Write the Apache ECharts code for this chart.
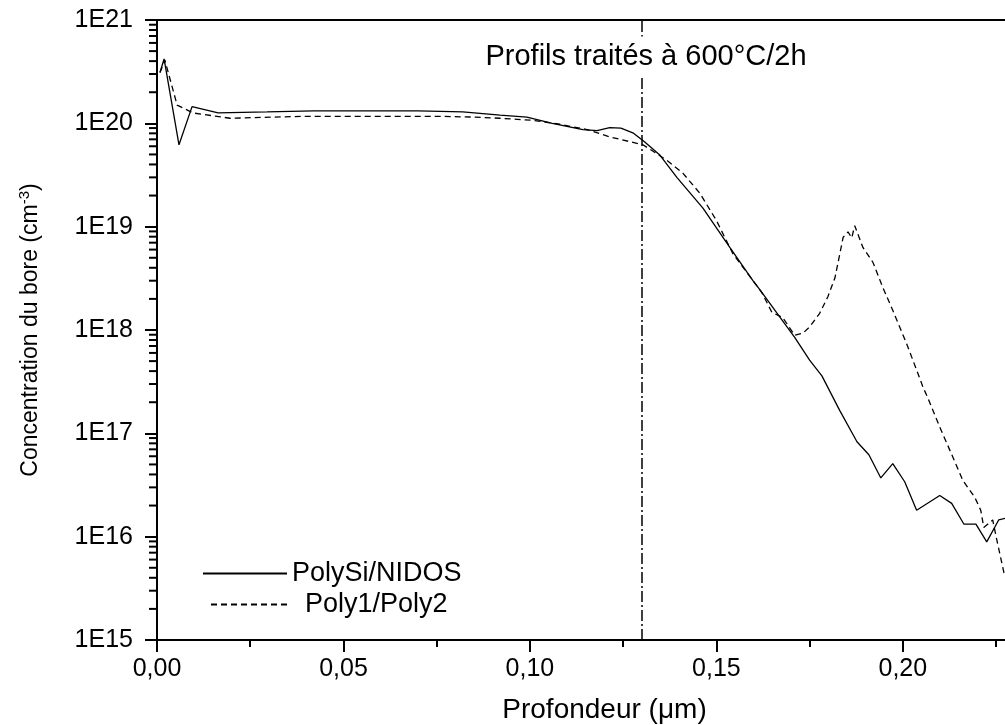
<!DOCTYPE html>
<html>
<head>
<meta charset="utf-8">
<script src="https://cdn.jsdelivr.net/npm/echarts@6/dist/echarts.min.js"></script>
<style>html,body{margin:0;padding:0;background:#fff}#c{width:1005px;height:725px}</style>
</head>
<body>
<div id="c"></div>
<script>
// Depth (µm)
const solidX = [0.0008,0.0019,0.0059,0.0094,0.0164,0.0295,0.042,0.055,0.070,0.082,0.092,0.0992,0.106,0.1142,0.118,0.1214,0.1244,0.1276,0.1308,0.1349,0.1394,0.1464,0.1536,0.1598,0.1617,0.171,0.175,0.1783,0.1831,0.1877,0.1909,0.1941,0.1973,0.2005,0.2037,0.2099,0.2131,0.2164,0.2196,0.2225,0.2257,0.229];
// Boron concentration (cm^-3), PolySi/NIDOS
const solidY = [3.1e20,4.2e20,6.2e19,1.45e20,1.26e20,1.29e20,1.32e20,1.32e20,1.32e20,1.29e20,1.2e20,1.15e20,1.0e20,8.7e19,8.5e19,9.1e19,9.0e19,8.1e19,6.6e19,4.9e19,3.0e19,1.51e19,6.3e18,3.0e18,2.45e18,8.5e17,5.1e17,3.6e17,1.66e17,8.3e16,6.2e16,3.7e16,5.1e16,3.4e16,1.8e16,2.5e16,2.1e16,1.32e16,1.32e16,8.9e15,1.45e16,1.55e16];
const dashX = [0.0008,0.0021,0.0054,0.0097,0.0196,0.0402,0.060,0.075,0.085,0.092,0.1008,0.108,0.1153,0.1214,0.1303,0.1367,0.141,0.1456,0.150,0.1544,0.1622,0.1649,0.1678,0.171,0.1732,0.175,0.1777,0.1799,0.1818,0.184,0.1853,0.1863,0.1871,0.1893,0.192,0.1946,0.1973,0.201,0.2037,0.2054,0.2067,0.2099,0.2134,0.2161,0.2193,0.2209,0.2217,0.2241,0.2252,0.2271,0.2285];
// Poly1/Poly2
const dashY = [3.1e20,4.1e20,1.5e20,1.26e20,1.12e20,1.17e20,1.17e20,1.17e20,1.15e20,1.12e20,1.07e20,9.8e19,8.7e19,7.4e19,6.2e19,4.4e19,3.3e19,2.1e19,1.15e19,5.5e18,2.3e18,1.48e18,1.32e18,8.9e17,9.3e17,1.07e18,1.45e18,2.1e18,3.2e18,7.9e18,8.9e18,7.8e18,1.02e19,6.3e18,4.5e18,2.6e18,1.55e18,7.4e17,4.1e17,2.8e17,2.2e17,1.15e17,5.9e16,3.5e16,2.4e16,1.8e16,1.23e16,1.45e16,9.3e15,4.5e15,3.5e15];
const seriesNames = ['PolySi/NIDOS', 'Poly1/Poly2'];
const markerDepth = 0.131;
const annotation = 'Profils traités à 600°C/2h';
const xTickValues = [0, 0.05, 0.10, 0.15, 0.20];
const yDecades = [15, 16, 17, 18, 19, 20, 21];
const yMinorMultipliers = [2, 3, 4, 5, 6, 7, 8, 9];

const FONT = 'Liberation Sans, Arial, sans-serif';
const zip = (a, b) => a.map((v, i) => [v, b[i]]);
const minorTicks = [];
yDecades.slice(0, -1).forEach(d => yMinorMultipliers.forEach(m => minorTicks.push([0, m * Math.pow(10, d)])));

const chart = echarts.init(document.getElementById('c'), null, {renderer: 'canvas'});
const legendBase = {
  orient: 'vertical', itemHeight: 12, itemGap: 0,
  itemStyle: {opacity: 0},
  textStyle: {fontFamily: FONT, fontSize: 27, color: '#000'}
};
chart.setOption({
  animation: false,
  backgroundColor: '#fff',
  grid: {left: 157, top: 20, bottom: 85, right: -47, show: true, borderColor: '#000', borderWidth: 2, outerBoundsMode: 'none'},
  legend: [
    Object.assign({}, legendBase, {data: [seriesNames[0]], left: 197, top: 555, itemWidth: 84}),
    Object.assign({}, legendBase, {data: [seriesNames[1]], left: 205, top: 586, itemWidth: 76,
      textStyle: {fontFamily: FONT, fontSize: 27, color: '#000', padding: [0, 0, 0, 13]}})
  ],
  xAxis: {
    type: 'value', min: 0, max: 0.24, interval: 0.05,
    name: 'Profondeur (μm)', nameLocation: 'middle', nameGap: 56,
    nameTextStyle: {fontFamily: FONT, fontSize: 28, color: '#000'},
    axisLine: {lineStyle: {color: '#000', width: 2}},
    axisTick: {length: 12, lineStyle: {color: '#000', width: 2}},
    minorTick: {show: true, splitNumber: 2, length: 7, lineStyle: {color: '#000', width: 2}},
    splitLine: {show: false},
    axisLabel: {fontFamily: FONT, fontSize: 25, color: '#000', margin: 17, showMaxLabel: false,
      formatter: v => xTickValues.some(t => Math.abs(t - v) < 1e-9) ? v.toFixed(2).replace('.', ',') : ''}
  },
  yAxis: {
    type: 'log', logBase: 10, min: 1e15, max: 1e21,
    name: 'Concentration du bore (cm{sup|-3})', nameLocation: 'middle', nameGap: 113, nameRotate: 90,
    nameTextStyle: {fontFamily: FONT, fontSize: 23, color: '#000', rich: {sup: {fontFamily: FONT, fontSize: 15, verticalAlign: 'top', color: '#000', padding: [0, 0, 12, 0]}}},
    axisLine: {lineStyle: {color: '#000', width: 2}},
    axisTick: {length: 12, lineStyle: {color: '#000', width: 2}},
    splitLine: {show: false},
    axisLabel: {fontFamily: FONT, fontSize: 25, color: '#000', margin: 24,
      formatter: v => '1E' + Math.round(Math.log10(v))}
  },
  series: [
    {
      name: seriesNames[0], type: 'line', data: zip(solidX, solidY), symbol: 'none', clip: true,
      itemStyle: {color: '#000'},
      lineStyle: {color: '#000', width: 1.3, type: 'solid'}, z: 3,
      markLine: {
        silent: true, symbol: 'none', label: {show: false},
        lineStyle: {color: '#000', width: 1.5, type: [11, 3, 2, 3]},
        data: [{xAxis: markerDepth}]
      }
    },
    {
      name: seriesNames[1], type: 'line', data: zip(dashX, dashY), symbol: 'none', clip: true,
      itemStyle: {color: '#000'},
      lineStyle: {color: '#000', width: 1.3, type: [6, 4]}, z: 3
    },
    {
      type: 'custom', data: minorTicks, clip: false, silent: true, z: 4,
      renderItem: (params, api) => {
        const p = api.coord([api.value(0), api.value(1)]);
        return {type: 'line', shape: {x1: p[0] - 8, y1: p[1], x2: p[0], y2: p[1]}, style: {stroke: '#000', lineWidth: 2}};
      }
    }
  ],
  graphic: [{
    type: 'text', z: 100, x: 646, y: 57,
    style: {text: annotation, fontFamily: FONT, fontSize: 29, fill: '#000', backgroundColor: '#fff', padding: [6, 4], align: 'center', verticalAlign: 'middle'}
  }]
});
</script>
</body>
</html>
